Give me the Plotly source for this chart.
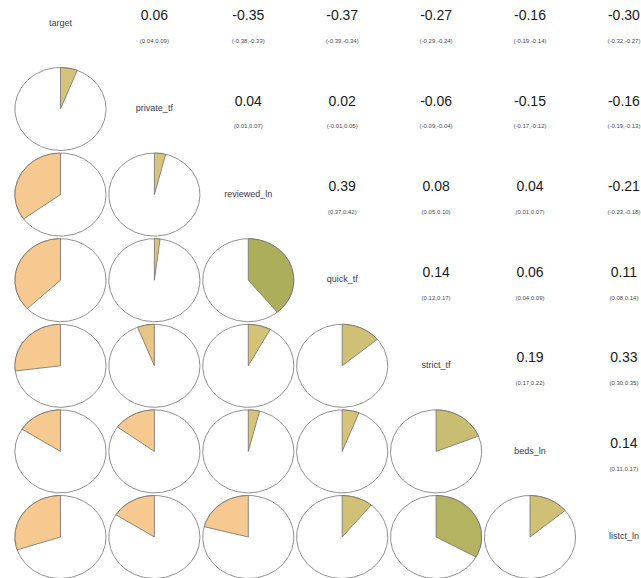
import numpy as np
import plotly.graph_objects as go

# Variables in panel order
variables = ["target", "private_tf", "reviewed_ln", "quick_tf", "strict_tf", "beds_ln", "listct_ln"]

# Pairwise correlations (upper triangle, row-major) with 95% confidence limits
pair_i = [0, 0, 0, 0, 0, 0, 1, 1, 1, 1, 1, 2, 2, 2, 2, 3, 3, 3, 4, 4, 5]
pair_j = [1, 2, 3, 4, 5, 6, 2, 3, 4, 5, 6, 3, 4, 5, 6, 4, 5, 6, 5, 6, 6]
corr = [0.06, -0.35, -0.37, -0.27, -0.16, -0.30,
        0.04, 0.02, -0.06, -0.15, -0.16,
        0.39, 0.08, 0.04, -0.21,
        0.14, 0.06, 0.11,
        0.19, 0.33,
        0.14]
ci_low = [0.04, -0.38, -0.39, -0.29, -0.19, -0.32,
          0.01, -0.01, -0.09, -0.17, -0.19,
          0.37, 0.05, 0.01, -0.23,
          0.12, 0.04, 0.08,
          0.17, 0.30,
          0.11]
ci_high = [0.09, -0.33, -0.34, -0.24, -0.14, -0.27,
           0.07, 0.05, -0.04, -0.12, -0.13,
           0.42, 0.10, 0.07, -0.18,
           0.17, 0.09, 0.14,
           0.22, 0.35,
           0.17]

# Fill palette: correlation anchor -> colour
pal_r = [-1.0, -0.15, -0.03, 0.03, 0.15, 0.40, 1.0]
pal_rgb = [(245, 200, 142), (245, 201, 143), (226, 196, 126), (216, 196, 124),
           (206, 192, 116), (170, 174, 90), (120, 140, 50)]


def fill_colour(r):
    ch = [np.interp(r, pal_r, [c[k] for c in pal_rgb]) for k in range(3)]
    return "rgb({:.0f},{:.0f},{:.0f})".format(*ch)


RADIUS = 0.485
fig = go.Figure()

# Lower triangle: pie for each pair (row = second variable, column = first)
for i, j, r in zip(pair_i, pair_j, corr):
    cx, cy = i, j
    t = np.linspace(0, 2 * np.pi, 181)
    fig.add_trace(go.Scatter(
        x=cx + RADIUS * np.cos(t), y=cy - RADIUS * np.sin(t),
        mode="lines", fill="toself", fillcolor="white",
        line=dict(color="#909090", width=1), hoverinfo="skip", showlegend=False))
    # positive sweeps clockwise from 12 o'clock, negative counter-clockwise
    a = np.linspace(np.pi / 2, np.pi / 2 - 2 * np.pi * r, 121)
    wx = np.concatenate([[cx], cx + RADIUS * np.cos(a), [cx]])
    wy = np.concatenate([[cy], cy - RADIUS * np.sin(a), [cy]])
    fig.add_trace(go.Scatter(
        x=wx, y=wy, mode="lines", fill="toself", fillcolor=fill_colour(r),
        line=dict(color="#6e6e6e", width=0.8), hoverinfo="skip", showlegend=False))

# Diagonal: variable names
fig.add_trace(go.Scatter(
    x=list(range(len(variables))), y=list(range(len(variables))),
    mode="text", text=variables,
    textfont=dict(family="Liberation Sans, Arial", size=9, color="#3a3a4a"),
    hoverinfo="skip", showlegend=False))

# Upper triangle: correlation value and confidence interval
fig.add_trace(go.Scatter(
    x=pair_j, y=[i - 0.08 for i in pair_i],
    mode="text", text=["{:.2f}".format(v) for v in corr],
    textfont=dict(family="Liberation Sans, Arial", size=14, color="#1a1a1a"),
    hoverinfo="skip", showlegend=False))
fig.add_trace(go.Scatter(
    x=pair_j, y=[i + 0.21 for i in pair_i],
    mode="text",
    text=["({:.2f},{:.2f})".format(lo, hi) for lo, hi in zip(ci_low, ci_high)],
    textfont=dict(family="Liberation Sans, Arial", size=6, color="#4a4a4a"),
    hoverinfo="skip", showlegend=False))

fig.update_layout(
    width=641, height=578,
    margin=dict(l=0, r=0, t=0, b=0),
    paper_bgcolor="white", plot_bgcolor="white",
    xaxis=dict(range=[-0.644, 6.182], visible=False, fixedrange=True),
    yaxis=dict(range=[6.479, -0.273], visible=False, fixedrange=True),
)

fig.write_html("out.html")
